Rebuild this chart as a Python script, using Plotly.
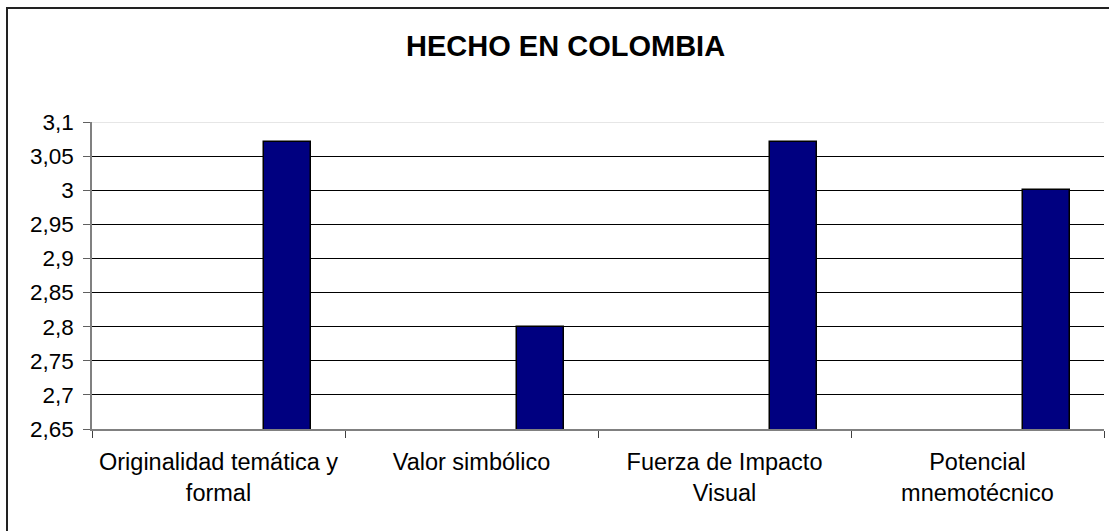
import plotly.graph_objects as go

categories = ["Originalidad temática y<br>formal", "Valor simbólico",
              "Fuerza de Impacto<br>Visual", "Potencial<br>mnemotécnico"]
values = [3.07, 2.80, 3.07, 3.00]
tick_vals = [2.65, 2.70, 2.75, 2.80, 2.85, 2.90, 2.95, 3.00, 3.05, 3.10]
tick_text = ["2,65", "2,7", "2,75", "2,8", "2,85", "2,9", "2,95", "3", "3,05", "3,1"]
title_text = "HECHO EN COLOMBIA"

FONT = "Liberation Sans, Arial, sans-serif"

fig = go.Figure()
fig.add_trace(go.Bar(
    x=categories, y=values,
    width=0.186, offset=0.18,
    marker=dict(color="#000080", line=dict(color="#000000", width=1.5)),
    hoverinfo="skip",
))

fig.update_layout(
    width=1109, height=531,
    margin=dict(l=92, r=5, t=122, b=102),
    paper_bgcolor="white", plot_bgcolor="white",
    showlegend=False,
    font=dict(family=FONT, color="#000000"),
    title=dict(text="<b>" + title_text + "</b>", xref="container", yref="container",
               x=0.51, y=1 - 46 / 531, xanchor="center", yanchor="middle",
               font=dict(family=FONT, size=29, color="#000000")),
    bargap=0,
)

fig.update_xaxes(
    type="category", range=[-0.5, 3.5],
    showline=True, linecolor="#808080", linewidth=1.5,
    ticks="outside", tickson="boundaries", ticklen=7, tickcolor="#404040", tickwidth=1,
    showgrid=False, zeroline=False,
    tickfont=dict(family=FONT, size=23.5, color="#000000"),
    ticklabelstandoff=11,
)
fig.update_yaxes(
    range=[2.65, 3.10], tickvals=tick_vals, ticktext=tick_text,
    showline=True, linecolor="#808080", linewidth=1.5,
    ticks="outside", ticklen=7, tickcolor="#606060", tickwidth=1,
    showgrid=True, gridcolor="#000000", gridwidth=1, zeroline=False,
    tickfont=dict(family=FONT, size=22.5, color="#000000"),
    ticklabelstandoff=5,
)

# top edge of the plot area drawn light, as in the reference
fig.add_shape(type="line", xref="paper", yref="y", x0=0, x1=1, y0=tick_vals[-1], y1=tick_vals[-1],
              line=dict(color="#e6e6e6", width=2), layer="above")
# outer chart frame (left and top edges visible)
fig.add_shape(type="rect", xref="paper", yref="paper",
              x0=(7 - 92) / 1012, x1=1.05, y0=-0.5, y1=(429 - 8) / 307,
              line=dict(color="#222222", width=2), layer="below")

fig.write_html("out.html")
